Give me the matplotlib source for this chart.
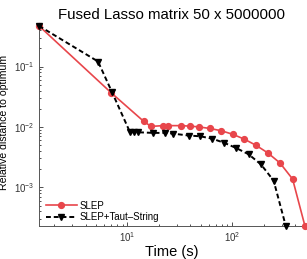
import numpy as np
import matplotlib
matplotlib.use('Agg')
import matplotlib.pyplot as plt
from matplotlib.ticker import LogLocator, NullFormatter

plt.rcParams['font.family'] = ['Liberation Sans', 'DejaVu Sans']

# SLEP (red circles)
slep_t = [1.44, 7.06, 14.3, 16.8, 22.0, 24.2, 32.2, 40.0, 48.0, 61.0, 78.9,
          101, 130, 168, 218, 285, 376, 492]
slep_y = [0.47, 0.0364, 0.0124, 0.0102, 0.0105, 0.0105, 0.0105, 0.0103, 0.0100,
          0.00944, 0.00863, 0.00755, 0.00629, 0.00497, 0.00372, 0.00253,
          0.00137, 2.32e-4]

# SLEP+Taut-String (black triangles)
taut_t = [1.44, 5.26, 7.17, 10.6, 11.6, 12.7, 17.6, 22.8, 27.0, 38.8, 49.5,
          64.7, 84, 109, 143, 188, 248, 324]
taut_y = [0.47, 0.121, 0.0372, 0.0082, 0.00815, 0.00815, 0.00796, 0.00796,
          0.00776, 0.00718, 0.0070, 0.00637, 0.00545, 0.00447, 0.00353,
          0.00239, 0.00129, 2.28e-4]

red = '#e8464b'

fig = plt.figure(figsize=(3.07, 2.59), dpi=100)
ax = fig.add_axes([0.127, 0.127, 0.866, 0.773])

ax.loglog(slep_t, slep_y, '-o', color=red, lw=1.2, ms=4.2, mfc=red, mec=red,
          label='SLEP', clip_on=False, zorder=3)
ax.loglog(taut_t, taut_y, '--v', color='black', lw=1.4, ms=5, dashes=(2.5, 1.5),
          label='SLEP+Taut\u2013String', clip_on=False, zorder=4)

ax.set_xlim(min(slep_t), max(slep_t))
ax.set_ylim(min(taut_y), max(slep_y))

ax.set_title('Fused Lasso matrix 50 x 5000000', fontsize=10.8, pad=5)
ax.set_xlabel('Time (s)', fontsize=10.5, labelpad=1)
ax.set_ylabel('Relative distance to optimum', fontsize=7.6)
ax.yaxis.set_label_coords(-0.113, 0.52)

for s in ['top', 'right']:
    ax.spines[s].set_visible(False)
for s in ['left', 'bottom']:
    ax.spines[s].set_color('#555555')
    ax.spines[s].set_linewidth(0.7)

ax.xaxis.set_major_locator(LogLocator(base=10, numticks=10))
ax.yaxis.set_major_locator(LogLocator(base=10, numticks=10))
ax.tick_params(which='both', direction='in', colors='#333333', labelsize=7,
               width=0.6, pad=3)
ax.tick_params(which='major', length=3)
ax.tick_params(which='minor', length=1.5)
ax.xaxis.set_minor_formatter(NullFormatter())
ax.yaxis.set_minor_formatter(NullFormatter())

ax.legend(loc='lower left', frameon=False, fontsize=7, handlelength=3.2,
          handletextpad=0.3, labelspacing=0.15, borderaxespad=0.0,
          bbox_to_anchor=(0.01, 0.0))

fig.savefig('out.png', dpi=100)
